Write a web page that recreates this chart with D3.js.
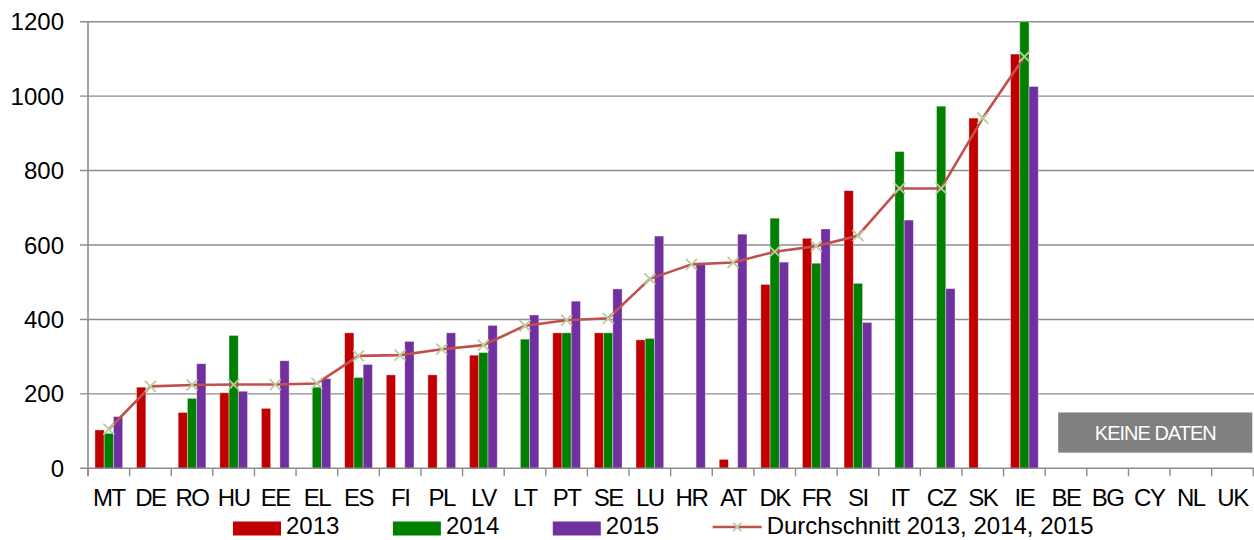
<!DOCTYPE html>
<html><head><meta charset="utf-8">
<script src="https://cdn.jsdelivr.net/npm/d3@7"></script>
<style>body{margin:0;background:#fff}svg{display:block;font-family:"Liberation Sans",Arial,sans-serif}</style>
</head><body><svg id="c" width="1254" height="540"></svg>
<script>
const categories = ["MT","DE","RO","HU","EE","EL","ES","FI","PL","LV","LT","PT","SE","LU","HR","AT","DK","FR","SI","IT","CZ","SK","IE","BE","BG","CY","NL","UK"];
const series = ["2013","2014","2015"];
const v2013 = [103,218,150,203,161,null,364,251,251,304,null,364,364,345,null,24,494,618,746,null,null,941,1113,null,null,null,null,null];
const v2014 = [94,null,188,357,null,218,244,null,null,311,347,364,364,349,null,null,672,551,497,851,973,null,1200,null,null,null,null,null];
const v2015 = [139,null,281,207,289,241,279,341,364,384,412,449,482,624,548,629,554,643,392,667,483,null,1026,null,null,null,null,null];
const avg = [105,220,224,225,225,228,302,304,320,331,383,398,403,509,548,553,582,597,625,752,752,941,1106,null,null,null,null,null];
const yTicks = [0,200,400,600,800,1000,1200];
const colors = {"2013":"#c00000","2014":"#008000","2015":"#7030a0"};
const lineColor = "#c0504d", markerColor = "#b9cc9c", gridColor = "#8c8c8c";
const avgLabel = "Durchschnitt 2013, 2014, 2015";
const noDataLabel = "KEINE DATEN";

const svg = d3.select("#c");
const L = 88, R = 1253.3, T = 21.7, B = 468.3;
const x = d3.scaleBand().domain(categories).range([L, R]).padding(0);
const bw = x.bandwidth();
const x1 = d3.scaleBand().domain(series).range([bw*0.167, bw*0.833]).padding(0);
const y = d3.scaleLinear().domain([0,1200]).range([B, T]);

// grid
svg.append("g").selectAll("line").data(yTicks.filter(d=>d>0)).join("line")
  .attr("x1", L-8).attr("x2", R+1).attr("y1", d=>y(d)).attr("y2", d=>y(d))
  .attr("stroke", gridColor).attr("stroke-width", 1.4);
// y labels
svg.append("g").selectAll("text").data(yTicks).join("text")
  .attr("x", 64).attr("y", d=>y(d)+8.5).attr("text-anchor","end")
  .attr("font-size", 24).attr("fill","#000").text(d=>d);

// bars
const data = {"2013":v2013,"2014":v2014,"2015":v2015};
series.forEach(s=>{
  svg.append("g").selectAll("rect").data(categories.map((c,i)=>({c, v:data[s][i]})).filter(d=>d.v!=null)).join("rect")
    .attr("x", d=>x(d.c)+x1(s)).attr("width", x1.bandwidth())
    .attr("y", d=>y(d.v)).attr("height", d=>B-y(d.v))
    .attr("fill", colors[s]).attr("stroke","rgba(255,255,255,0.45)").attr("stroke-width",0.8);
});

// axes lines
svg.append("line").attr("x1",L).attr("x2",L).attr("y1",T).attr("y2",B+8).attr("stroke",gridColor).attr("stroke-width",1.6);
svg.append("line").attr("x1",L-8).attr("x2",R+1).attr("y1",B).attr("y2",B).attr("stroke",gridColor).attr("stroke-width",1.6);
const bounds = categories.map(c=>x(c)).concat([R]);
svg.append("g").selectAll("line").data(bounds).join("line")
  .attr("x1",d=>d).attr("x2",d=>d).attr("y1",B).attr("y2",B+8).attr("stroke",gridColor).attr("stroke-width",1.4);
svg.append("g").selectAll("text").data(categories).join("text")
  .attr("x", d=>x(d)+bw/2).attr("y", 506).attr("text-anchor","middle")
  .attr("font-size", 24).attr("letter-spacing", -1.5).attr("fill","#000").text(d=>d);

// average line
const avgPts = categories.map((c,i)=>({c, v:avg[i]})).filter(d=>d.v!=null);
svg.append("path").datum(avgPts)
  .attr("d", d3.line().x(d=>x(d.c)+bw/2).y(d=>y(d.v)))
  .attr("fill","none").attr("stroke",lineColor).attr("stroke-width",2.6).attr("stroke-linejoin","round");
const cross = (g, cx, cy, r) => {
  g.append("path").attr("d",`M${cx-r},${cy-r}L${cx+r},${cy+r}M${cx-r},${cy+r}L${cx+r},${cy-r}`)
   .attr("stroke",markerColor).attr("stroke-width",1.8).attr("fill","none");
};
const mg = svg.append("g");
avgPts.forEach(d=>cross(mg, x(d.c)+bw/2, y(d.v), 5.5));

// no data box
const bx = x("BE")+13, by = y(150), bh = y(42)-y(150);
svg.append("rect").attr("x",bx).attr("y",by).attr("width",R-1-bx).attr("height",bh).attr("fill","#808080");
svg.append("text").attr("x",(bx+R-1)/2).attr("y",by+bh/2+7).attr("text-anchor","middle")
  .attr("font-size",20).attr("letter-spacing",-1).attr("fill","#fff").text(noDataLabel);

// legend
const lg = svg.append("g");
let lx = 233; const ly = 534;
series.forEach(s=>{
  lg.append("rect").attr("x",lx).attr("y",ly-12.5).attr("width",48).attr("height",14).attr("fill",colors[s]);
  const t = lg.append("text").attr("x",lx+53).attr("y",ly).attr("font-size",24).attr("fill","#000").text(s);
  lx += 53 + t.node().getComputedTextLength() + 53.5;
});
lg.append("line").attr("x1",lx).attr("x2",lx+49).attr("y1",ly-7).attr("y2",ly-7).attr("stroke",lineColor).attr("stroke-width",2.6);
cross(lg, lx+24.5, ly-7, 4);
lg.append("text").attr("x",lx+54).attr("y",ly).attr("font-size",24).attr("fill","#000").text(avgLabel);
</script></body></html>
